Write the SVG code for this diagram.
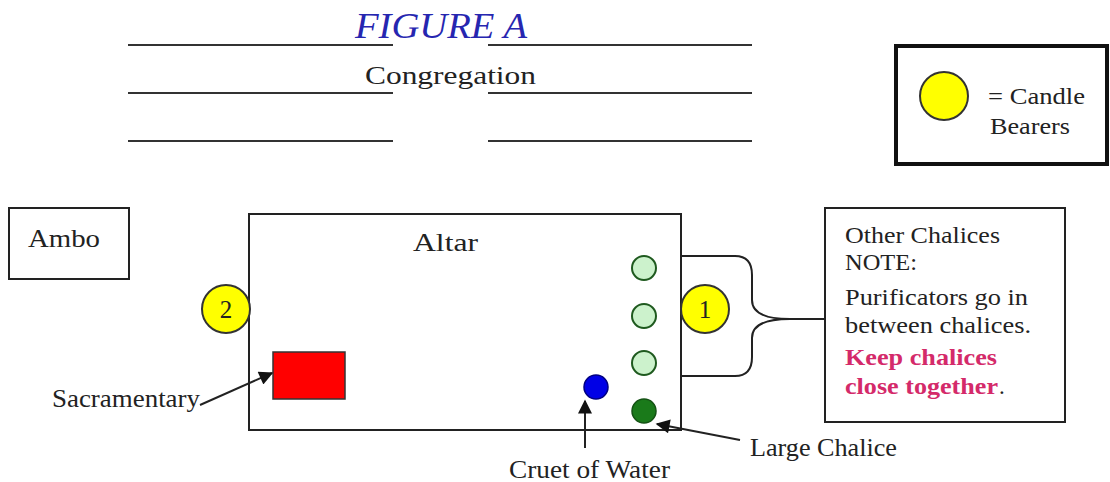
<svg xmlns="http://www.w3.org/2000/svg" width="1110" height="482" viewBox="0 0 1110 482">
<style>
.t{font-family:"Liberation Serif","Times New Roman",serif;fill:#222;font-size:25px}
.box{fill:#fff;stroke:#222;stroke-width:2}
.ln{stroke:#333;stroke-width:2.2}
.cb{fill:#ffff00;stroke:#333;stroke-width:2}
.lc{fill:#ccf2cc;stroke:#1f5a1f;stroke-width:2}
.con{fill:none;stroke:#222;stroke-width:2}
.pk{fill:#d42a6a;font-weight:bold}
</style>
<defs>
<marker id="ah2" viewBox="0 0 10 10" refX="9" refY="5" markerWidth="16" markerHeight="14" orient="auto" markerUnits="userSpaceOnUse">
<path d="M0,0 L10,5 L0,10 z" fill="#111"/>
</marker>
</defs>
<rect width="1110" height="482" fill="#fff"/>
<g id="header">
<text x="355" y="38" class="t" style="font-style:italic;fill:#2626b0;font-size:36px" textLength="172" lengthAdjust="spacingAndGlyphs">FIGURE A</text>
<line class="ln" x1="128" y1="45" x2="393" y2="45"/>
<line class="ln" x1="488" y1="45" x2="752" y2="45"/>
<line class="ln" x1="128" y1="93" x2="393" y2="93"/>
<line class="ln" x1="488" y1="93" x2="752" y2="93"/>
<line class="ln" x1="128" y1="141" x2="393" y2="141"/>
<line class="ln" x1="488" y1="141" x2="752" y2="141"/>
<text x="365" y="84" class="t" style="font-size:26px" textLength="171" lengthAdjust="spacingAndGlyphs">Congregation</text>
</g>
<g id="legend">
<rect x="896" y="46" width="211" height="118" fill="#fff" stroke="#111" stroke-width="4"/>
<circle class="cb" cx="944" cy="96" r="24"/>
<text x="988" y="104" class="t" style="font-size:23px" textLength="97" lengthAdjust="spacingAndGlyphs">= Candle</text>
<text x="990" y="134" class="t" style="font-size:23px" textLength="80" lengthAdjust="spacingAndGlyphs">Bearers</text>
</g>
<g id="ambo">
<rect class="box" x="9" y="208" width="120" height="71"/>
<text x="28" y="247" class="t" textLength="72" lengthAdjust="spacingAndGlyphs">Ambo</text>
</g>
<g id="altar">
<rect class="box" x="249" y="214" width="432" height="216"/>
<text x="413" y="251" class="t" style="font-size:26px" textLength="65" lengthAdjust="spacingAndGlyphs">Altar</text>
</g>
<g id="sacramentary-book">
<rect x="273" y="352" width="72" height="47" fill="#ff0000" stroke="#333" stroke-width="1.5"/>
</g>
<g id="chalices">
<circle class="lc" cx="644" cy="268" r="12"/>
<circle class="lc" cx="644" cy="316" r="12"/>
<circle class="lc" cx="644" cy="363" r="12"/>
<circle cx="644" cy="411" r="12" fill="#1a7a1a" stroke="#145214" stroke-width="1.5"/>
</g>
<g id="cruet">
<circle cx="596" cy="387" r="12" fill="#0000e6" stroke="#000080" stroke-width="1.5"/>
</g>
<g id="bearer2">
<circle class="cb" cx="226" cy="309" r="24"/>
<text x="226" y="318" class="t" text-anchor="middle">2</text>
</g>
<g id="bearer1">
<circle class="cb" cx="705" cy="309" r="24"/>
<text x="705" y="318" class="t" text-anchor="middle">1</text>
</g>
<g id="note">
<rect class="box" x="825" y="208" width="240" height="214"/>
<text x="845" y="243" class="t" style="font-size:23px" textLength="155" lengthAdjust="spacingAndGlyphs">Other Chalices</text>
<text x="845" y="270" class="t" style="font-size:23px" textLength="72" lengthAdjust="spacingAndGlyphs">NOTE:</text>
<text x="845" y="305" class="t" style="font-size:23px" textLength="183" lengthAdjust="spacingAndGlyphs">Purificators go in</text>
<text x="845" y="333" class="t" style="font-size:23px" textLength="186" lengthAdjust="spacingAndGlyphs">between chalices.</text>
<text x="845" y="365" class="t pk" style="font-size:23px" textLength="152" lengthAdjust="spacingAndGlyphs">Keep chalices</text>
<text x="845" y="394" class="t pk" style="font-size:23px" textLength="153" lengthAdjust="spacingAndGlyphs">close together</text>
<text x="999" y="394" class="t" style="font-size:23px">.</text>
</g>
<g id="labels">
<text x="52" y="407" class="t" textLength="148" lengthAdjust="spacingAndGlyphs">Sacramentary</text>
<text x="509" y="478" class="t" textLength="161" lengthAdjust="spacingAndGlyphs">Cruet of Water</text>
<text x="750" y="456" class="t" textLength="147" lengthAdjust="spacingAndGlyphs">Large Chalice</text>
</g>
<g id="connectors">
<path class="con" d="M681,256 L735,256 Q752,256 752,275 L752,300 Q752,319 790,319 L825,319"/>
<path class="con" d="M681,376 L735,376 Q752,376 752,357 L752,338 Q752,319 790,319"/>
<line class="con" x1="200" y1="405" x2="272" y2="373" marker-end="url(#ah2)"/>
<line class="con" x1="585" y1="448" x2="585" y2="401" marker-end="url(#ah2)"/>
<line class="con" x1="740" y1="440" x2="657" y2="424" marker-end="url(#ah2)"/>
</g>
</svg>
